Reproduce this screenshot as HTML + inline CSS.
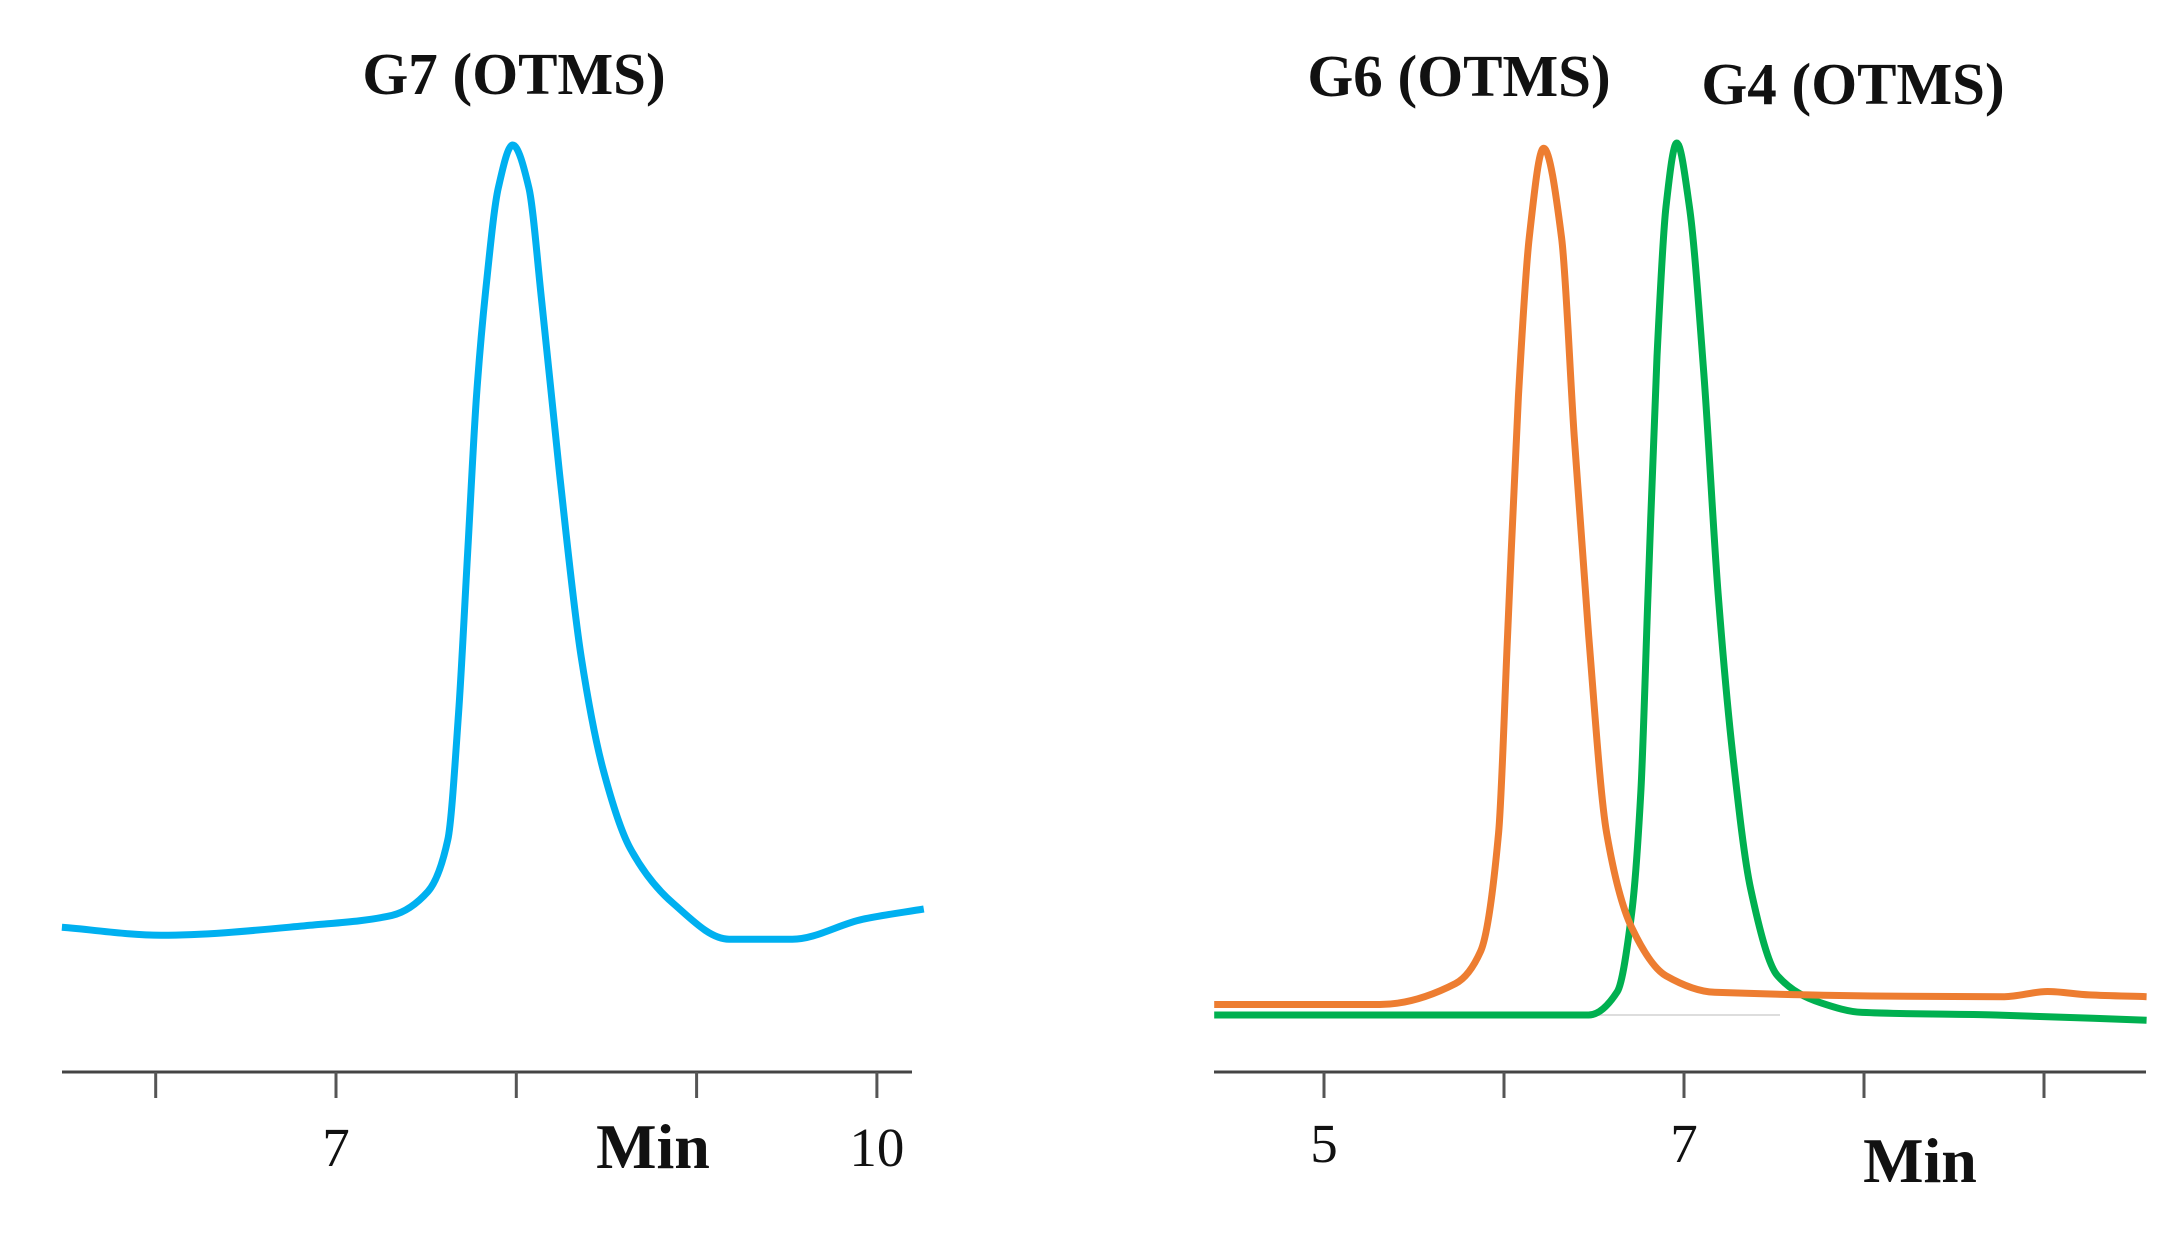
<!DOCTYPE html>
<html><head><meta charset="utf-8"><style>
html,body{margin:0;padding:0;background:#fff}
svg{display:block}
text{font-family:"Liberation Serif",serif;fill:#111}
</style></head><body>
<svg id="chart" width="2169" height="1244" viewBox="0 0 2169 1244"></svg>
<script>
// Left panel data (time in min, relative signal)
const g7Times = [5.48,6.03,6.88,7.31,7.51,7.62,7.68,7.73,7.78,7.83,7.90,7.98,8.07,8.14,8.24,8.36,8.48,8.63,8.87,9.18,9.53,9.92,10.26];
const g7Values = [1.6,0.6,1.9,3.1,6.1,12.6,28.6,48.6,68.6,81.6,94.6,100,94.6,80.6,58.6,35.6,21.6,11.6,4.6,0.1,0.1,2.6,3.9];
const leftTicks = [6,7,8,9,10];
const leftTickLabels = ["","7","","","10"];
// Right panel data
const g6Times = [4.39,5.31,5.73,5.87,5.97,6.02,6.08,6.14,6.22,6.32,6.39,6.47,6.57,6.71,6.90,7.17,8.78,9.02,9.25,9.57];
const g6Values = [1.2,1.2,3.6,7.3,20.9,43.6,70.9,89.1,99.4,89.1,66.4,43.6,20.9,10,4.5,2.6,2.1,2.7,2.3,2.1];
const g4Times = [4.39,6.47,6.63,6.71,6.76,6.80,6.85,6.90,6.96,7.03,7.11,7.19,7.27,7.37,7.52,7.76,7.99,8.73,9.57];
const g4Values = [0,0,2.7,11.8,25.5,48.2,75.5,92.7,100,92.7,73.6,48.2,30,14.5,4.5,1.4,0.3,0,-0.6];
const rightTicks = [5,6,7,8,9];
const rightTickLabels = ["5","","7","",""];

const svg = document.getElementById('chart');
const NS = 'http://www.w3.org/2000/svg';
function mk(tag, attrs){const e=document.createElementNS(NS,tag);for(const k in attrs)e.setAttribute(k,attrs[k]);svg.appendChild(e);return e;}

const lx = t => 336 + (t-7)*180.3;
const ly = v => 940 - v*7.95;
const rx = t => 1324 + (t-5)*180;
const ry = v => 1015 - v*8.72;

// monotone cubic (Fritsch-Carlson) path
function monoPath(pts){
  const n=pts.length, dx=[], s=[], m=[];
  for(let i=0;i<n-1;i++){dx[i]=pts[i+1][0]-pts[i][0]; s[i]=(pts[i+1][1]-pts[i][1])/dx[i];}
  m[0]=s[0]; m[n-1]=s[n-2];
  for(let i=1;i<n-1;i++){
    if(s[i-1]*s[i]<=0) m[i]=0;
    else { const w1=2*dx[i]+dx[i-1], w2=dx[i]+2*dx[i-1]; m[i]=(w1+w2)/(w1/s[i-1]+w2/s[i]); }
  }
  let d='M'+pts[0][0].toFixed(1)+','+pts[0][1].toFixed(1);
  for(let i=0;i<n-1;i++){
    const h=dx[i]/3;
    d+=' C'+(pts[i][0]+h).toFixed(1)+','+(pts[i][1]+m[i]*h).toFixed(1)+' '+(pts[i+1][0]-h).toFixed(1)+','+(pts[i+1][1]-m[i+1]*h).toFixed(1)+' '+pts[i+1][0].toFixed(1)+','+pts[i+1][1].toFixed(1);
  }
  return d;
}
function series(ts, vs, fx, fy, color, name){
  const pts = ts.map((t,i)=>[fx(t),fy(vs[i])]);
  const p = mk('path',{d:monoPath(pts),fill:'none',stroke:color,'stroke-width':7,'stroke-linejoin':'round','stroke-linecap':'butt'});
  
  
}
function axis(x1,x2,y,ticks,labels,fx,name,labelY){
  const a = mk('line',{x1:x1,x2:x2,y1:y,y2:y,stroke:'#444','stroke-width':3});
  
  
  ticks.forEach((t,i)=>{
    const tk = mk('line',{x1:fx(t),x2:fx(t),y1:y,y2:y+26,stroke:'#555','stroke-width':3});
    
    
    if(labels[i]){
      const tl = mk('text',{x:fx(t),y:labelY,'text-anchor':'middle','font-size':55});
      tl.textContent = labels[i];
      
      
    }
  });
}
function label(x,y,txt,size,name){
  const t = mk('text',{x:x,y:y,'text-anchor':'middle','font-size':size,'font-weight':'bold'});
  t.textContent = txt;
  
  
}

axis(62,912,1072,leftTicks,leftTickLabels,lx,'left-x-axis',1166);
series(g7Times,g7Values,lx,ly,'#00b0f0','g7-trace');
label(514,94,'G7 (OTMS)',59,'g7-title');
label(653,1168,'Min',64,'left-x-axis-title');

axis(1214,2146,1072,rightTicks,rightTickLabels,rx,'right-x-axis',1162);
mk('line',{x1:1590,x2:1780,y1:1015,y2:1015,stroke:'#ddd','stroke-width':2});
series(g4Times,g4Values,rx,ry,'#00b050','g4-trace');
series(g6Times,g6Values,rx,ry,'#ed7d31','g6-trace');
label(1459,96,'G6 (OTMS)',59,'g6-title');
label(1853,104,'G4 (OTMS)',59,'g4-title');
label(1920,1182,'Min',64,'right-x-axis-title');
</script>
</body></html>
